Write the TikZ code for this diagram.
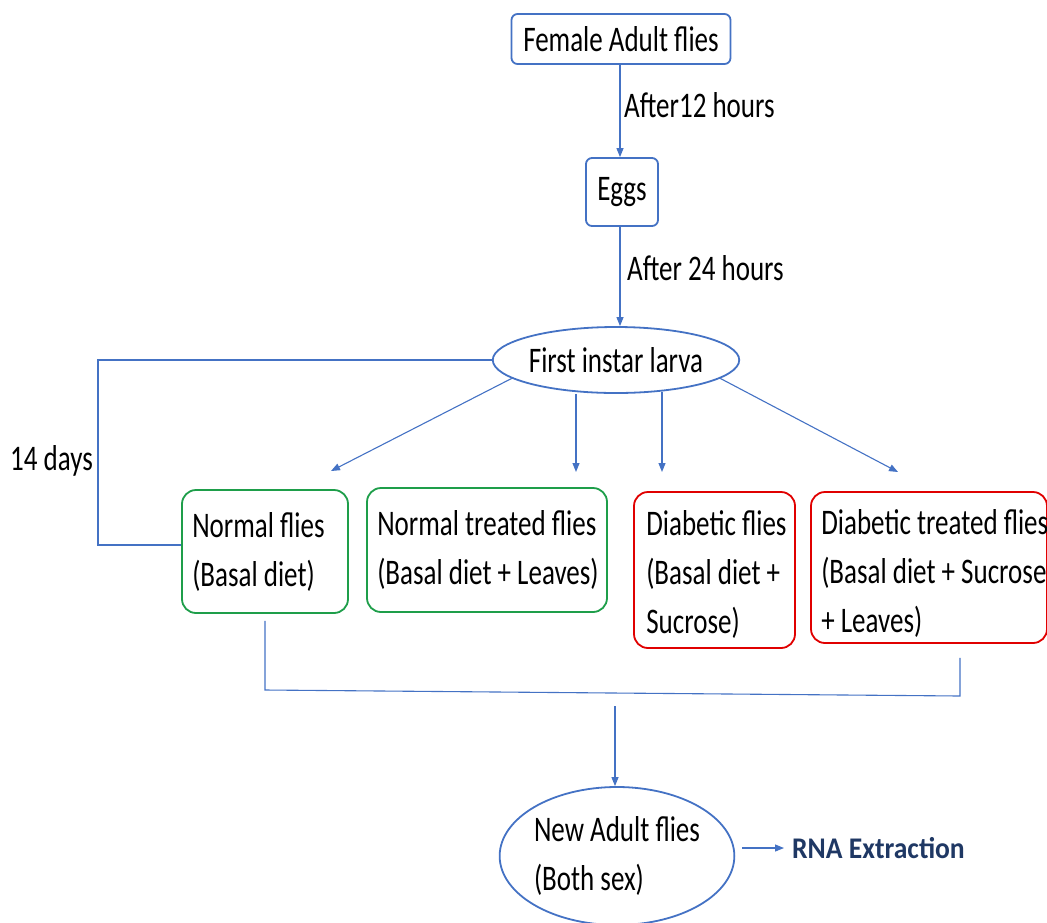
\documentclass[tikz,border=0pt]{standalone}
\usepackage{fontspec}
\setmainfont{Carlito}[FakeStretch=0.75]
\newfontfamily\rnafont{Carlito}[FakeStretch=0.92]
\usetikzlibrary{shapes.geometric,arrows.meta}
\definecolor{lblue}{HTML}{4472C4}
\definecolor{lgreen}{HTML}{1E9E4A}
\definecolor{lred}{HTML}{E00000}
\definecolor{navy}{HTML}{1F3864}
\tikzset{
  txt/.style={font=\fontsize{36}{49}\selectfont, align=left, inner sep=0pt, text=black},
  bbox/.style={draw=lblue, line width=1.8pt, rounded corners=6pt, inner sep=0pt},
  gbox/.style={draw=lgreen, line width=1.8pt, rounded corners=14pt, inner sep=0pt},
  rbox/.style={draw=lred, line width=1.8pt, rounded corners=14pt, inner sep=0pt},
  ell/.style={draw=lblue, line width=1.8pt, ellipse, inner sep=0pt},
  conn/.style={draw=lblue, line width=1.1pt},
  arr/.style={conn, -{Triangle[length=9pt,width=7pt]}}
}
\begin{document}
\begin{tikzpicture}[x=1pt,y=-1pt]
\useasboundingbox (0,0) rectangle (1047,922);
% top chain
\node[bbox, minimum width=219pt, minimum height=50pt, txt] (fem) at (621,39) {Female Adult flies};
\node[bbox, minimum width=72pt, minimum height=68pt, txt] (eggs) at (622,192) {Eggs};
\node[ell, minimum width=214pt, minimum height=66pt, txt] (larva) at (616,360) {First instar larva};
\draw[arr] (fem.south -| 620,0) -- (eggs.north -| 620,0);
\node[txt, anchor=west] (l12) at (624,105) {After12 hours};
\draw[arr] (eggs.south -| 620,0) -- (larva.north -| 620,0);
\node[txt, anchor=west] (l24) at (627,268) {After 24 hours};
% four groups
\node[gbox, minimum width=166pt, minimum height=123pt] (nf) at (265,551.5) {};
\node[txt, anchor=west] (nft) at ([xshift=11pt]nf.west) {Normal flies\\(Basal diet)};
\node[gbox, minimum width=240pt, minimum height=124pt] (nt) at (487,550) {};
\node[txt, anchor=west] (ntt) at ([xshift=11pt]nt.west) {Normal treated flies\\(Basal diet + Leaves)};
\node[rbox, minimum width=161pt, minimum height=156pt] (df) at (714.5,570) {};
\node[txt, anchor=west] (dft) at ([xshift=13pt,yshift=-4pt]df.west) {Diabetic flies\\(Basal diet +\\Sucrose)};
\node[rbox, minimum width=236pt, minimum height=151pt] (dt) at (929,567.5) {};
\node[txt, anchor=west] (dtt) at ([xshift=11pt,yshift=-6pt]dt.west) {Diabetic treated flies\\(Basal diet + Sucrose\\+ Leaves)};
% arrows from larva
\coordinate (t1) at (331,471);
\coordinate (t2) at (576,472);
\coordinate (t3) at (662,472);
\coordinate (t4) at (898,472);
\draw[arr] (larva.190) -- (t1);
\draw[arr] (t2 |- larva.south) -- (t2);
\draw[arr] ([yshift=2pt]t3 |- larva.south) -- (t3);
\draw[arr] (larva.-10) -- (t4);
% 14 days loop
\coordinate (lc) at (98,545);
\draw[conn] (larva.west) -| (lc) -- (lc -| nf.west);
\node[txt, anchor=west] (d14) at (10,461) {14 days};
% join to new adults
\coordinate (jl) at (265,690);
\coordinate (jr) at (960,696);
\coordinate (jm) at (615,706);
\draw[conn] ([yshift=-7pt]nf.south) -- (jl) -- (jr) -- ([yshift=-14pt]dt.south -| jr);
\node[ell, minimum width=221pt, minimum height=138pt, txt] (na) at (617,856) {New Adult flies\\(Both sex)};
\draw[arr] (jm) -- (jm |- na.north);
\node[anchor=west, inner sep=0pt, text=navy, font=\rnafont\bfseries\fontsize{30}{36}\selectfont] (rna) at (792,848) {RNA Extraction};
\draw[arr] ([xshift=7pt]na.east |- rna.west) -- ([xshift=-8pt]rna.west);
\end{tikzpicture}
\end{document}
